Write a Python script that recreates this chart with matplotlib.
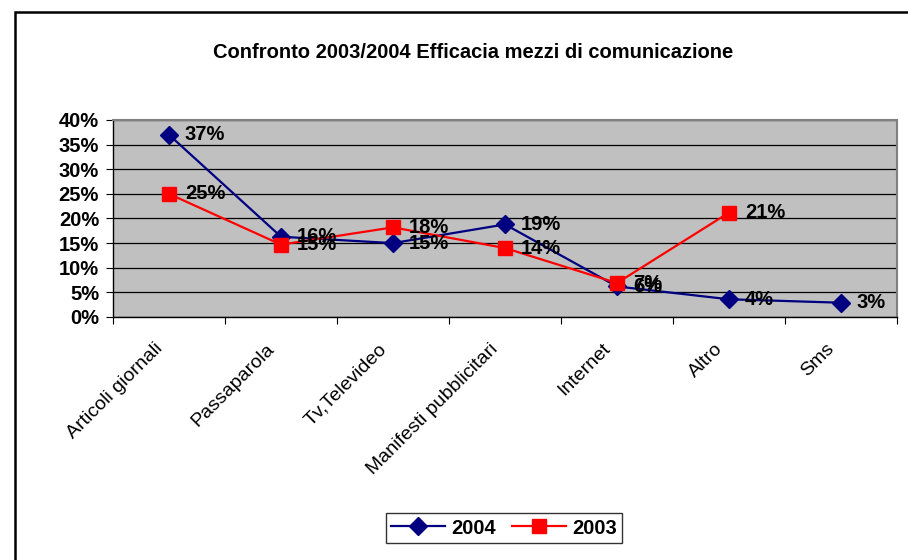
import matplotlib.pyplot as plt
from matplotlib.patches import Rectangle
from matplotlib.ticker import FuncFormatter, FixedLocator
from matplotlib.transforms import ScaledTranslation

plt.rcParams['font.family'] = ['Liberation Sans', 'DejaVu Sans']

categorie = ['Articoli giornali', 'Passaparola', 'Tv,Televideo', 'Manifesti pubblicitari',
             'Internet', 'Altro', 'Sms']
valori_2004 = [37.0, 16.3, 15.0, 18.8, 6.2, 3.6, 2.9]
valori_2003 = [25.0, 14.7, 18.2, 14.0, 6.9, 21.2]
etichette_2004 = ['37%', '16%', '15%', '19%', '6%', '4%', '3%']
etichette_2003 = ['25%', '15%', '18%', '14%', '7%', '21%']

fig = plt.figure(figsize=(9.08, 5.6), dpi=100)
ax = fig.add_axes([113 / 908, 1 - 317 / 560, (897 - 113) / 908, (317 - 120) / 560])

# cornice esterna
fig.patches.append(Rectangle((15 / 908, -0.05), 1.1, 1 - 12 / 560 + 0.05,
                             transform=fig.transFigure, fill=False,
                             edgecolor='black', linewidth=1.8))

ax.set_facecolor('#C0C0C0')
x = list(range(len(categorie)))
x03 = x[:len(valori_2003)]

ax.plot(x, valori_2004, color='#000080', linewidth=1.6, marker='D', markersize=9,
        label='2004', zorder=3)
ax.plot(x03, valori_2003, color='#FF0000', linewidth=1.6, marker='s', markersize=10.5,
        label='2003', zorder=4)

for xi, v, t in zip(x, valori_2004, etichette_2004):
    ax.annotate(t, (xi, v), xytext=(11.5, 0), textcoords='offset points',
                ha='left', va='center', fontsize=14.5, fontweight='bold', zorder=5)
for xi, v, t in zip(x03, valori_2003, etichette_2003):
    ax.annotate(t, (xi, v), xytext=(11.5, 0), textcoords='offset points',
                ha='left', va='center', fontsize=14.5, fontweight='bold', zorder=5)

ax.set_xlim(-0.5, len(categorie) - 0.5)
ax.set_ylim(0, 40)
ax.set_yticks(range(0, 41, 5))
ax.yaxis.set_major_formatter(FuncFormatter(lambda v, p: f'{int(v)}%'))
for lab in ax.get_yticklabels():
    lab.set_fontweight('bold')
ax.tick_params(axis='y', labelsize=14.5, length=5, direction='out', pad=5)
ax.grid(axis='y', color='black', linewidth=0.9)
ax.set_axisbelow(True)

# tick tra le categorie, etichette al centro
ax.xaxis.set_major_locator(FixedLocator([i - 0.5 for i in range(len(categorie) + 1)]))
ax.set_xticklabels([])
ax.xaxis.set_minor_locator(FixedLocator(x))
ax.set_xticklabels(categorie, minor=True, rotation=45, ha='right', va='center',
                   rotation_mode='anchor', fontsize=14)
ax.tick_params(axis='x', which='major', length=5, direction='out')
ax.tick_params(axis='x', which='minor', length=0, pad=16)
sposta = ScaledTranslation(-9 / 100, -7 / 100, fig.dpi_scale_trans)
for lab in ax.get_xticklabels(minor=True):
    lab.set_transform(lab.get_transform() + sposta)

for s in ['top', 'right']:
    ax.spines[s].set_color('#808080')
    ax.spines[s].set_linewidth(1.5)
for s in ['left', 'bottom']:
    ax.spines[s].set_color('black')
    ax.spines[s].set_linewidth(1.0)

fig.text(473 / 908, 1 - 52 / 560, 'Confronto 2003/2004 Efficacia mezzi di comunicazione',
         ha='center', va='center', fontsize=14.5, fontweight='bold')

leg = fig.legend(loc='center', bbox_to_anchor=(504 / 908, 1 - 528 / 560), ncol=2,
                 prop={'weight': 'bold', 'size': 14.5}, frameon=True, fancybox=False,
                 edgecolor='black', handlelength=2.7, columnspacing=0.8,
                 borderpad=0.25, handletextpad=0.3)
leg.get_frame().set_linewidth(1.0)

fig.savefig('out.png', dpi=100, facecolor='white')
